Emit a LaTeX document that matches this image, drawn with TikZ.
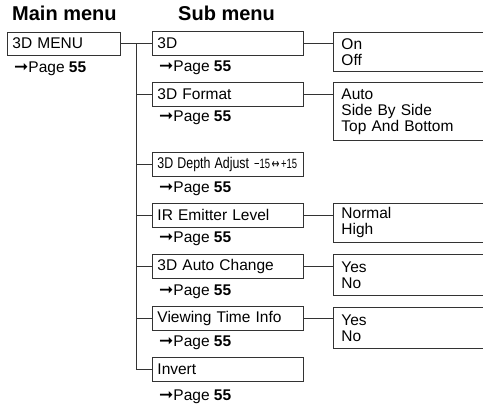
\documentclass[tikz,border=0pt]{standalone}
\usepackage{graphicx}
\usepackage{fontspec}
\setmainfont{Liberation Sans}
\newfontfamily\arrowfont{DejaVu Sans}
\usetikzlibrary{positioning,calc}
\definecolor{rule}{HTML}{333333}
\newcommand{\pgref}{{\arrowfont\bfseries\fontsize{17}{16}\selectfont ➞}Page \textbf{55}}

\begin{document}
\begin{tikzpicture}[x=1pt, y=-1pt,
    every node/.style={font=\fontsize{15.5}{16}\selectfont},
    conn/.style={draw=rule, line width=0.9pt},
    heading/.style={anchor=west, inner sep=0pt, font=\fontsize{20}{22}\selectfont\bfseries},
    mainbox/.style={draw=rule, line width=0.9pt, anchor=west, minimum height=23pt, text width=103pt, inner xsep=5pt, align=left},
    subbox/.style={draw=rule, line width=0.9pt, anchor=west, minimum height=24pt, text width=141pt, inner xsep=5pt, align=left},
    valbox/.style={draw=rule, line width=0.9pt, anchor=north west, text width=154pt, inner xsep=8pt, align=left},
    pageref/.style={anchor=west, inner sep=0pt}]
  \useasboundingbox (0,0) rectangle (483,409);

  % headings
  \node[heading] (hmain) at (12,13) {Main menu};
  \node[heading] (hsub) at (178,13) {Sub menu};

  % main menu
  \node[mainbox] (m) at (7,43.5) {3D MENU};
  \node[pageref] (mp) at (14,69) {\pgref};

  % sub menu
  \node[subbox] (s1) at (152,43.5) {3D};
  \node[pageref] (p1) at (159,68) {\pgref};
  \node[subbox] (s2) at (152,94.5) {3D Format};
  \node[pageref] (p2) at (159,118) {\pgref};
  \node[subbox] (s3) at (152,164.5) {\mbox{\scalebox{0.8}[1]{3D Depth Adjust}\hspace{5pt}\scalebox{0.7}[1]{\fontsize{13.5}{14}\selectfont −15\,{\arrowfont ↔}\,+15}}};
  \node[pageref] (p3) at (159,189) {\pgref};
  \node[subbox] (s4) at (152,215) {IR Emitter Level};
  \node[pageref] (p4) at (159,239) {\pgref};
  \node[subbox] (s5) at (152,266) {3D Auto Change};
  \node[pageref] (p5) at (159,292) {\pgref};
  \node[subbox] (s6) at (152,318.5) {Viewing Time Info};
  \node[pageref] (p6) at (159,343) {\pgref};
  \node[subbox] (s7) at (152,369) {Invert};
  \node[pageref] (p7) at (159,397) {\pgref};

  % settings
  \node[valbox, minimum height=39pt] (v1) at (333,32) {On\\Off};
  \node[valbox, minimum height=58pt] (v2) at (333,82) {Auto\\Side By Side\\Top And Bottom};
  \node[valbox, minimum height=39pt] (v4) at (333,203) {Normal\\High};
  \node[valbox, minimum height=41pt] (v5) at (333,254) {Yes\\No};
  \node[valbox, minimum height=41pt] (v6) at (333,307) {Yes\\No};

  % tree lines
  \coordinate (trunk) at (136,0);
  \draw[conn] (m.east) -- (s1.west);
  \draw[conn] (s1.west -| trunk) |- (s7.west);
  \foreach \s in {s2,s3,s4,s5,s6}
    \draw[conn] (\s.west -| trunk) -- (\s.west);
  \foreach \s/\v in {s1/v1,s2/v2,s4/v4,s5/v5,s6/v6}
    \draw[conn] (\s.east) -- (\s.east -| \v.west);
\end{tikzpicture}
\end{document}
